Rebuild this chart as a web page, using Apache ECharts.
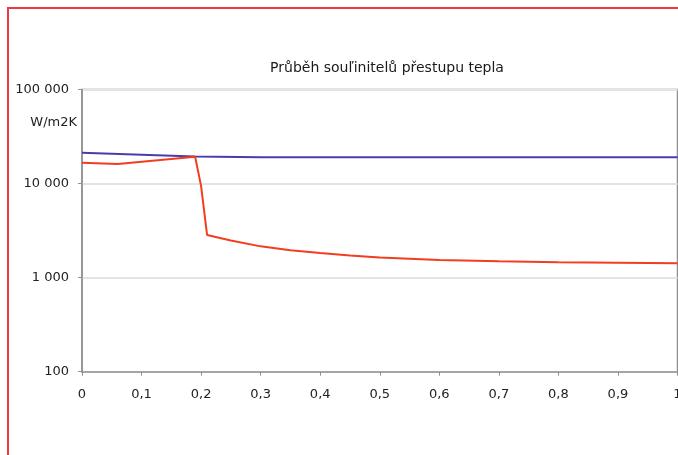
<!DOCTYPE html>
<html><head><meta charset="utf-8">
<script src="https://cdn.jsdelivr.net/npm/echarts@6/dist/echarts.min.js"></script>
<style>
html,body{margin:0;padding:0;background:#fff;}
#frame{position:absolute;left:7px;top:7px;width:700px;height:500px;border-left:2px solid #ec3a44;border-top:2px solid #ec3a44;box-sizing:border-box;}
#c{position:absolute;left:0;top:0;width:678px;height:455px;}
</style></head>
<body>
<div id="frame"></div>
<div id="c"></div>
<script>
var titleText = 'Průběh souľinitelů přestupu tepla';
var unitText = 'W/m2K';
var xTicks = [0,0.1,0.2,0.3,0.4,0.5,0.6,0.7,0.8,0.9,1];
var yTicks = [100,1000,10000,100000];
var blueX = [0, 0.1, 0.19, 0.3, 0.5, 0.7, 1.0];
var blueY = [21300, 20300, 19400, 19100, 19000, 19000, 19000];
var redX = [0, 0.06, 0.19, 0.2, 0.21, 0.25, 0.3, 0.35, 0.4, 0.45, 0.5, 0.6, 0.7, 0.8, 0.9, 1.0];
var redY = [16600, 16100, 19300, 9400, 2840, 2480, 2150, 1950, 1830, 1720, 1640, 1540, 1490, 1460, 1440, 1420];

function zip(xs, ys){ return xs.map(function(x,i){ return [x, ys[i]]; }); }
function fmtY(v){ return String(Math.round(v)).replace(/\B(?=(\d{3})+(?!\d))/g, ' '); }

var FONT = 'DejaVu Sans';
var chart = echarts.init(document.getElementById('c'), null, {renderer:'canvas'});
chart.setOption({
  backgroundColor: 'transparent',
  animation: false,
  title: {
    text: titleText, left: 382, top: 56, textAlign: 'center',
    textStyle: {fontFamily: FONT, fontSize: 14, fontWeight: 'normal', color: '#1a1a1a'}
  },
  graphic: [{
    type: 'text', x: 77, y: 123,
    style: {text: unitText, x: 0, y: 0, align: 'right', verticalAlign: 'middle',
      font: '13px "DejaVu Sans"', fill: '#222'}
  }],
  grid: {left: 82, top: 89.5, right: 0.5, bottom: 83.3, show: true, borderColor: '#909090', borderWidth: 1.5,
    containLabel: false, outerBoundsMode: 'none'},
  xAxis: {
    type: 'value', min: 0, max: 1, interval: 0.1,
    axisLine: {show: true, lineStyle: {color: '#909090', width: 1.5}},
    axisTick: {show: true, length: 4, lineStyle: {color: '#909090'}},
    splitLine: {show: false},
    axisLabel: {margin: 16, fontFamily: FONT, fontSize: 13, color: '#222', hideOverlap: false,
      formatter: function(v){ return String(Math.round(v*10)/10).replace('.', ','); }}
  },
  yAxis: {
    type: 'log', logBase: 10, min: yTicks[0], max: yTicks[yTicks.length-1],
    axisLine: {show: true, lineStyle: {color: '#909090', width: 1.5}},
    axisTick: {show: true, length: 4, lineStyle: {color: '#909090'}},
    splitLine: {show: true, lineStyle: {color: '#e4e4e4', width: 2}},
    axisLabel: {margin: 13, fontFamily: FONT, fontSize: 13, color: '#222', formatter: fmtY}
  },
  series: [
    {type: 'line', data: zip(blueX, blueY), showSymbol: false, lineStyle: {color: '#4b3cae', width: 2}, itemStyle: {color: '#4b3cae'}, z: 3},
    {type: 'line', data: zip(redX, redY), showSymbol: false, lineStyle: {color: '#f23d1f', width: 2}, itemStyle: {color: '#f23d1f'}, z: 4}
  ]
});
</script>
</body></html>
